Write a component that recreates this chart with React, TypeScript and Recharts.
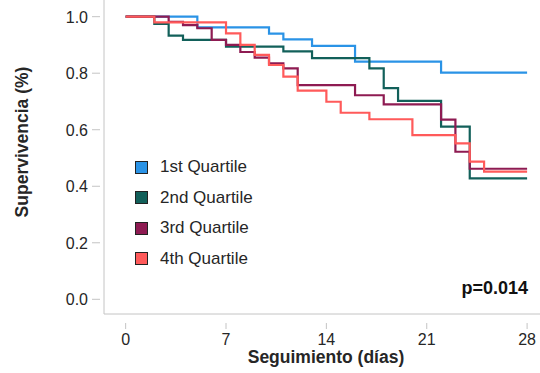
import React from "react";
import { LineChart, Line, XAxis, YAxis, Legend } from "recharts";

// Kaplan-Meier curves (days → survival)
const q1Days = [0, 5, 10, 11, 13, 16, 22, 28];
const q1Surv = [1.0, 0.962, 0.94, 0.92, 0.897, 0.841, 0.802, 0.802];

const q2Days = [0, 2, 3, 4, 7, 11, 13, 17, 18, 19, 22, 24, 28];
const q2Surv = [1.0, 0.974, 0.933, 0.918, 0.894, 0.877, 0.853, 0.817, 0.747, 0.702, 0.611, 0.428, 0.428];

const q3Days = [0, 3, 4, 5, 6, 7, 8, 9, 10, 11, 12, 16, 18, 22, 23, 24, 28];
const q3Surv = [1.0, 0.982, 0.97, 0.959, 0.918, 0.9, 0.875, 0.855, 0.835, 0.817, 0.758, 0.722, 0.69, 0.636, 0.522, 0.462, 0.462];

const q4Days = [0, 2, 7, 8, 9, 10, 11, 12, 14, 15, 17, 20, 23, 24, 25, 28];
const q4Surv = [1.0, 0.98, 0.941, 0.9, 0.865, 0.829, 0.788, 0.738, 0.699, 0.66, 0.637, 0.581, 0.552, 0.487, 0.452, 0.452];

const seriesNames = ["1st Quartile", "2nd Quartile", "3rd Quartile", "4th Quartile"];
const xTicks = [0, 7, 14, 21, 28];
const yTicks = [0, 0.2, 0.4, 0.6, 0.8, 1.0];
const pValue = "p=0.014";

const COLORS = ["#2a93e6", "#12605a", "#8e1b52", "#ff5a5a"];
const AXIS = "#c4c4c4";
const TEXT = "#262626";
const FONT = "'Liberation Sans', Arial, sans-serif";

const toRows = (days: number[], surv: number[]) =>
  days.map((t, i) => ({ t, s: surv[i] }));

const curves = [
  toRows(q1Days, q1Surv),
  toRows(q2Days, q2Surv),
  toRows(q3Days, q3Surv),
  toRows(q4Days, q4Surv),
];

function YTick({ x, y, payload }: any) {
  return (
    <g>
      <line x1={x - 12} x2={x - 4} y1={y} y2={y} stroke={AXIS} />
      <text x={x - 16} y={y} dy={6} textAnchor="end" fill={TEXT} fontSize={16} fontFamily={FONT}>
        {payload.value.toFixed(1)}
      </text>
    </g>
  );
}

function XTick({ x, y, payload }: any) {
  return (
    <g>
      <line x1={x} x2={x} y1={y + 9} y2={y + 15} stroke={AXIS} />
      <text x={x} y={y + 31} textAnchor="middle" fill={TEXT} fontSize={16} fontFamily={FONT}>
        {payload.value}
      </text>
    </g>
  );
}

function QuartileLegend() {
  return (
    <div style={{ fontFamily: FONT, fontSize: 17, color: TEXT }}>
      {seriesNames.map((name, i) => (
        <div key={name} style={{ display: "flex", alignItems: "center", height: 30.5 }}>
          <span
            style={{
              display: "inline-block",
              width: 11,
              height: 11,
              background: COLORS[i],
              border: "1px solid #222",
              marginRight: 12,
            }}
          />
          {name}
        </div>
      ))}
    </div>
  );
}

export default function App() {
  return (
    <div style={{ position: "absolute", left: 0, top: 0, width: 540, height: 373, background: "#fff" }}>
      <LineChart width={540} height={373} margin={{ top: 0, right: 0, bottom: 0, left: 0 }}>
        <XAxis
          type="number"
          dataKey="t"
          domain={[-1.51, 28.9]}
          ticks={xTicks}
          height={59}
          tickSize={0}
          tickMargin={0}
          tickLine={false}
          axisLine={{ stroke: AXIS }}
          tick={<XTick />}
          allowDataOverflow
          label={({ viewBox }: any) => (
            <text
              x={viewBox.x + 222}
              y={viewBox.y + 49}
              textAnchor="middle"
              fontSize={17.5}
              fontWeight="bold"
              fill={TEXT}
              fontFamily={FONT}
            >
              Seguimiento (días)
            </text>
          )}
        />
        <YAxis
          type="number"
          dataKey="s"
          domain={[-0.052, 1.059]}
          ticks={yTicks}
          width={104}
          tickSize={0}
          tickMargin={0}
          tickLine={false}
          axisLine={{ stroke: AXIS }}
          tick={<YTick />}
          allowDataOverflow
          label={({ viewBox }: any) => {
            const cx = viewBox.x + 22;
            const cy = viewBox.y + viewBox.height / 2 - 15;
            return (
              <text
                x={cx}
                y={cy}
                transform={`rotate(-90 ${cx} ${cy})`}
                textAnchor="middle"
                dominantBaseline="central"
                fontSize={17.5}
                fontWeight="bold"
                fill={TEXT}
                fontFamily={FONT}
              >
                Supervivencia (%)
              </text>
            );
          }}
        />
        {curves.map((rows, i) => (
          <Line
            key={seriesNames[i]}
            data={rows}
            dataKey="s"
            name={seriesNames[i]}
            type="stepAfter"
            stroke={COLORS[i]}
            strokeWidth={2.2}
            dot={false}
            activeDot={false}
            isAnimationActive={false}
          />
        ))}
        <Legend
          layout="horizontal"
          verticalAlign="middle"
          align="center"
          content={<QuartileLegend />}
          wrapperStyle={{ left: 135, top: 152, width: 160 }}
        />
      </LineChart>
      <div
        style={{
          position: "absolute",
          right: 12,
          top: 279,
          fontFamily: FONT,
          fontSize: 18,
          lineHeight: "18px",
          fontWeight: "bold",
          color: "#111",
        }}
      >
        {pValue}
      </div>
    </div>
  );
}
